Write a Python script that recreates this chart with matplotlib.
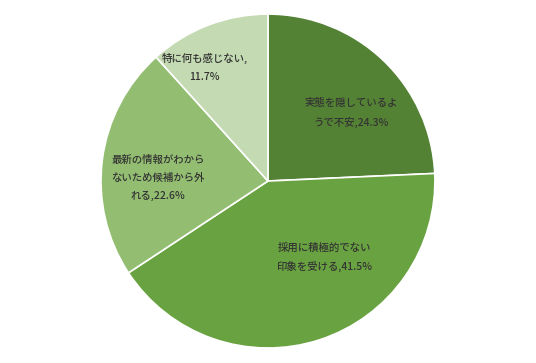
import matplotlib.pyplot as plt

plt.rcParams['font.family'] = ['Noto Sans CJK JP', 'DejaVu Sans']

labels = ['実態を隠しているよ\nうで不安,24.3%',
          '採用に積極的でない\n印象を受ける,41.5%',
          '最新の情報がわから\nないため候補から外\nれる,22.6%',
          '特に何も感じない,\n11.7%']
values = [24.3, 41.5, 22.6, 11.7]
colors = ['#548235', '#69a240', '#93be72', '#c3dab2']
# label positions relative to pie centre (radius = 1)
label_pos = [(0.50, 0.41), (0.34, -0.46), (-0.66, 0.02), (-0.38, 0.68)]

fig = plt.figure(figsize=(5.36, 3.63), dpi=100)
ax = fig.add_axes([0.1884, 0.0413, 0.623, 0.920])

ax.pie(values, colors=colors, startangle=90, counterclock=False,
       wedgeprops=dict(edgecolor='white', linewidth=1.2))
ax.set_xlim(-1.0, 1.0)
ax.set_ylim(-1.0, 1.0)

for lab, (x, y) in zip(labels, label_pos):
    ax.text(x, y, lab, ha='center', va='center', fontsize=7.5,
            color='#333333', linespacing=2.0, multialignment='center',
            fontweight='medium')

plt.savefig('out.png', dpi=100)
